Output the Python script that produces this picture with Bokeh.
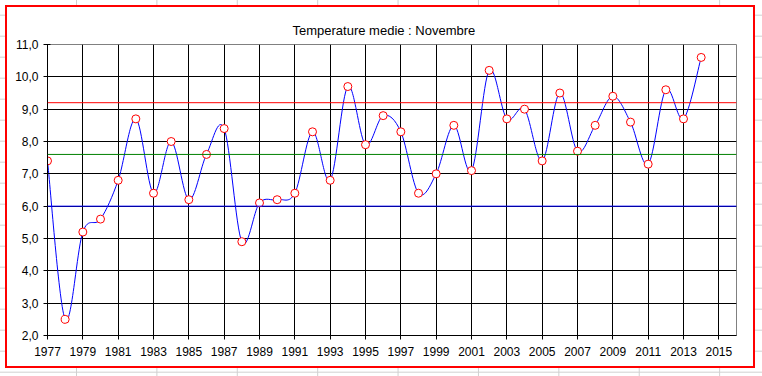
from bokeh.plotting import figure
from bokeh.layouts import column
from bokeh.models import FixedTicker, Span
from bokeh.embed import file_html
from bokeh.resources import INLINE

# ---- data ----
years = list(range(1977, 2015))
temps = [7.4, 2.5, 5.2, 5.6, 6.8, 8.7, 6.4, 8.0, 6.2, 7.6, 8.4, 4.9,
         6.1, 6.2, 6.4, 8.3, 6.8, 9.7, 7.9, 8.8, 8.3, 6.4, 7.0, 8.5, 7.1, 10.2, 8.7,
         9.0, 7.4, 9.5, 7.7, 8.5, 9.4, 8.6, 7.3, 9.6, 8.7, 10.6]
upper_level = 9.2
mean_level = 7.6
lower_level = 6.0
x_ticks = list(range(1977, 2016, 2))
y_ticks = list(range(2, 12))
y_labels = {v: f"{v},0" for v in y_ticks}
title_text = "Temperature medie : Novembre"

FONT = "Liberation Sans"

p = figure(width=750, height=363, x_range=(1977, 2016), y_range=(2, 11),
           output_backend="svg", toolbar_location=None, title=title_text,
           min_border_left=40, min_border_right=21, min_border_top=37,
           min_border_bottom=35, margin=(5, 0, 0, 5),
           styles={"border": "2px solid #ff0000", "background": "white"})

p.title.align = "left"
p.title.vertical_align = "top"
p.title.text_font = FONT
p.title.text_font_size = "13px"
p.title.text_font_style = "normal"
p.title.text_color = "black"
p.title.offset = 245
p.title.standoff = 10

p.outline_line_color = "#808080"
p.outline_line_width = 1

# axes
p.xaxis.ticker = FixedTicker(ticks=x_ticks)
p.yaxis.ticker = FixedTicker(ticks=y_ticks)
p.yaxis.major_label_overrides = y_labels
for ax in (p.xaxis[0], p.yaxis[0]):
    ax.axis_line_color = "black"
    ax.major_tick_line_color = "black"
    ax.minor_tick_line_color = None
    ax.major_tick_out = 4
    ax.major_tick_in = 3
    ax.major_label_text_font = FONT
    ax.major_label_text_font_size = "12px"
    ax.major_label_text_color = "black"
p.xaxis.major_label_standoff = 7
p.yaxis.major_label_standoff = 5

# grid
p.xgrid.ticker = FixedTicker(ticks=x_ticks)
p.ygrid.ticker = FixedTicker(ticks=y_ticks)
for g in (p.xgrid[0], p.ygrid[0]):
    g.grid_line_color = "black"
    g.grid_line_alpha = 1.0
    g.grid_line_width = 1

# reference lines
p.add_layout(Span(location=lower_level, dimension="width", line_color="#0000ff", line_width=1))
p.add_layout(Span(location=mean_level, dimension="width", line_color="#008000", line_width=1))
p.add_layout(Span(location=upper_level, dimension="width", line_color="#ff0000", line_width=1))

# smoothed line (Catmull-Rom style Bezier segments, like Excel's smoothing)
n = len(years)
x0s, y0s, x1s, y1s, cx0s, cy0s, cx1s, cy1s = [], [], [], [], [], [], [], []
for i in range(n - 1):
    xa, ya = (years[i - 1], temps[i - 1]) if i > 0 else (years[i], temps[i])
    xb, yb = years[i], temps[i]
    xc, yc = years[i + 1], temps[i + 1]
    xd, yd = (years[i + 2], temps[i + 2]) if i + 2 < n else (xc, yc)
    x0s.append(xb); y0s.append(yb); x1s.append(xc); y1s.append(yc)
    cx0s.append(xb + (xc - xa) / 6); cy0s.append(yb + (yc - ya) / 6)
    cx1s.append(xc - (xd - xb) / 6); cy1s.append(yc - (yd - yb) / 6)
p.bezier(x0=x0s, y0=y0s, x1=x1s, y1=y1s, cx0=cx0s, cy0=cy0s, cx1=cx1s, cy1=cy1s,
         line_color="#0000ff", line_width=1)

p.scatter(years, temps, marker="circle", size=8, line_color="#ff0000",
          fill_color="white", line_width=1)

page = column(p, width=762, height=376,
              styles={"background-color": "white",
                      "background-image": "linear-gradient(#d0d0d0 1px, transparent 1px), "
                                          "linear-gradient(90deg, #d0d0d0 1px, transparent 1px)",
                      "background-size": "80.4px 21px",
                      "background-position": "76px 14.7px"})

open("out.html", "w").write(file_html(page, INLINE))
